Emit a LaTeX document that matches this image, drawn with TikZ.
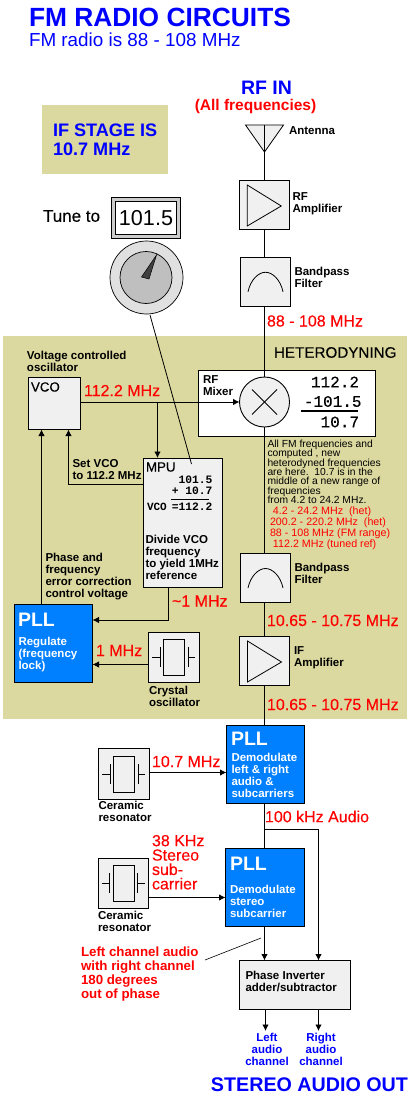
\documentclass[tikz,border=0pt]{standalone}
\usepackage{fontspec}
\setmainfont{Liberation Sans}
\newfontfamily\monof{Liberation Mono}
\newfontfamily\hvy[FakeBold=0.25]{Liberation Sans}
\newfontfamily\monoh[FakeBold=0.25]{Liberation Mono}
\usetikzlibrary{arrows.meta}
\definecolor{panelc}{HTML}{DBD99F}
\definecolor{boxc}{HTML}{F0F0F0}
\definecolor{pllc}{HTML}{0080FF}
\newcommand{\fsz}[2]{\fontsize{#1}{#2}\selectfont\lineskiplimit=-100pt\relax}
\tikzset{
 every node/.style={inner sep=0pt,outer sep=0pt},
 wire/.style={line width=0.9pt,black},
 arr/.style={line width=0.9pt,black,-{Latex[length=6.5pt,width=6.5pt]}},
 bx/.style={draw=black,line width=0.9pt,fill=boxc,rectangle},
 pll/.style={draw=black,line width=0.9pt,fill=pllc,rectangle},
 lbl/.style={anchor=west,align=left,font=\bfseries\fsz{11.5}{12}},
 freq/.style={anchor=west,align=left,text=red,font=\hvy\fsz{16}{16}},
 pllt/.style={anchor=west,text=white,font=\bfseries\fsz{19.5}{20}},
 pllb/.style={anchor=west,align=left,text=white,font=\bfseries\fsz{11.5}{12}},
 sym/.style={line width=0.8pt,black},
}
\newcommand{\xtalsym}[1]{\begin{scope}[shift={(#1)}]
 \draw[sym] (-10.5,-18) rectangle (10.5,18);
 \draw[sym] (-14,-10) -- (-14,10) (-22,0) -- (-14,0) (14,-10) -- (14,10) (14,0) -- (21,0);
\end{scope}}
\newcommand{\bpfsym}[1]{\begin{scope}[shift={(#1)}]
 \draw[sym] (-17.5,10) .. controls (-15,-2) and (-7,-9.5) .. (0,-9.5) .. controls (7,-9.5) and (15,-2) .. (17.5,10);
\end{scope}}
\newcommand{\ampsym}[1]{\begin{scope}[shift={(#1)}]
 \draw[sym] (-17,-20) -- (17,1) -- (-17,21) -- cycle;
\end{scope}}
\begin{document}
\begin{tikzpicture}[x=1pt,y=-1pt]
\useasboundingbox (0,0) rectangle (412,1110);
\fill[white] (0,0) rectangle (412,1110);
% guide columns
\coordinate (main) at (264.5,0);
\coordinate (tapx) at (157.5,0);
\coordinate (pllin) at (41.5,0);
\coordinate (setx) at (68.5,0);
\coordinate (sety) at (0,484.5);
\coordinate (refx) at (168.5,0);
\coordinate (refy) at (0,620);
\coordinate (brx) at (318.5,0);
\coordinate (bry) at (0,829);
\coordinate (leftx) at (265.5,0);
% panels
\node[rectangle,fill=panelc,minimum width=404pt,minimum height=383pt] (panel) at (205,527.5) {};
\node[rectangle,fill=panelc,minimum width=126pt,minimum height=69pt] (ifbox) at (105,139.5) {};
% mixer box
\node[draw=black,fill=white,line width=0.9pt,minimum width=177pt,minimum height=66pt] (mixbox) at (287,403.5) {};
% named nodes
\coordinate (anttip) at (264.5,152);
\coordinate (anttop) at (264.5,125);
\node[bx,minimum width=50.5pt,minimum height=49pt] (rfamp) at (264.25,205) {};
\node[bx,minimum width=50pt,minimum height=48.5pt] (bpfa) at (265.5,281.75) {};
\node[circle,draw=black,fill=boxc,line width=0.9pt,minimum size=50pt] (mixer) at (264.5,402) {};
\node[bx,minimum width=50pt,minimum height=49pt] (bpfb) at (265.5,578) {};
\node[bx,minimum width=50pt,minimum height=49pt] (ifamp) at (264.5,661) {};
\node[pll,minimum width=78pt,minimum height=78pt] (pllb) at (265.5,764.5) {};
\node[pll,minimum width=79pt,minimum height=78pt] (pllc) at (265,887.5) {};
\node[bx,minimum width=52.5pt,minimum height=52pt] (vco) at (54.25,403.5) {};
\node[bx,minimum width=79pt,minimum height=129.5pt] (mpu) at (183,522.75) {};
\node[pll,minimum width=78pt,minimum height=78pt] (plla) at (53.5,643) {};
\node[bx,minimum width=51pt,minimum height=50pt] (xtal) at (174,657) {};
\node[bx,minimum width=51pt,minimum height=51pt] (cera) at (124,774) {};
\node[bx,minimum width=50pt,minimum height=50pt] (cerb) at (123.5,883) {};
\node[bx,minimum width=111pt,minimum height=49pt] (inv) at (295,985) {};
% connectors
\draw[wire] (anttip) -- (main|-rfamp.north);
\draw[wire] (main|-rfamp.south) -- (main|-bpfa.north);
\draw[wire] (main|-bpfa.south) -- (mixer.north);
\draw[wire] (mixer.south) -- (main|-bpfb.north);
\draw[wire] (main|-bpfb.south) -- (main|-ifamp.north);
\draw[wire] (main|-ifamp.south) -- (main|-pllb.north);
\draw[wire] (main|-pllb.south) -- (main|-pllc.north);
\draw[arr] (vco.east|-mixer.west) -- (mixer.west);
\draw[arr] (tapx|-mixer.west) -- (tapx|-mpu.north);
\draw[arr] (mpu.west|-sety) -- (setx|-sety) -- (setx|-vco.south);
\draw[arr] (pllin|-plla.north) -- (pllin|-vco.south);
\draw[arr] (refx|-mpu.south) -- (refx|-refy) -- (plla.east|-refy);
\draw[arr] (xtal.west|-0,664.5) -- (plla.east|-0,664.5);
\draw[arr] (cera.east|-0,772.5) -- (pllb.west|-0,772.5);
\draw[arr] (cerb.east|-0,897.5) -- (pllc.west|-0,897.5);
\draw[wire] (main|-bry) -- (brx|-bry);
\draw[arr] (brx|-bry) -- (brx|-inv.north);
\draw[arr] (main|-pllc.south) -- (main|-inv.north);
\draw[arr] (leftx|-inv.south) -- (leftx|-0,1031);
\draw[arr] (brx|-inv.south) -- (brx|-0,1031);
% symbols
\draw[sym,fill=boxc] (245.5,125) -- (283.5,125) -- (anttip) -- cycle;
\draw[wire] (anttop) -- (anttip);
\ampsym{rfamp.center}
\ampsym{ifamp.center}
\bpfsym{bpfa.center}
\bpfsym{bpfb.center}
\draw[sym] (mixer.center) ++(-12.5,-12.5) -- ++(25,25);
\draw[sym] (mixer.center) ++(12.5,-12.5) -- ++(-25,25);
\xtalsym{xtal.center}
\xtalsym{cera.center}
\xtalsym{cerb.center}
% tuner
\node[draw=black,fill=lightgray!80,line width=0.9pt,minimum width=69pt,minimum height=41pt] (disp) at (146,218) {};
\node[draw=black,fill=white,line width=0.9pt,minimum width=61pt,minimum height=33.5pt,font=\fsz{21.6}{22}] (dispv) at (146,218) {101.5};
\node[circle,draw=black,fill=black!12,line width=0.7pt,minimum size=73pt] (knob) at (146.5,277.5) {};
\node[circle,draw=black,fill=black!25,line width=0.7pt,minimum size=52pt] (knobin) at (146,277.5) {};
\draw[fill=black!75,line width=0.5pt] (156.5,255) -- (141.5,277) -- (149,279) -- cycle;
\coordinate (mpuend) at (191.5,464);
\draw[line width=0.8pt] (150,315) -- (mpuend);
% text
\node[anchor=west,text=blue,font=\bfseries\fsz{26.35}{27}] (t1) at (29,17) {FM RADIO CIRCUITS};
\node[anchor=west,text=blue,font=\fsz{18.85}{20}] (t2) at (29,40) {FM radio is 88 - 108 MHz};
\node[text=blue,font=\bfseries\fsz{19.5}{20}] (t3) at (266.5,88) {RF IN};
\node[text=red,font=\bfseries\fsz{15.5}{16}] (t4) at (255.5,106.5) {(All frequencies)};
\node[anchor=west,align=left,text=blue,font=\bfseries\fsz{18.1}{19}] (t5) at (53,140) {IF STAGE IS\\10.7 MHz};
\node[lbl] (t6) at (289,131) {Antenna};
\node[lbl] (t7) at (292.5,203.5) {RF\\Amplifier};
\node[lbl] (t8) at (294.5,277) {Bandpass\\Filter};
\node[anchor=west,font=\hvy\fsz{17}{17}] (t9) at (43,216) {Tune to};
\node[freq] (t10) at (267,321) {88 - 108 MHz};
\node[anchor=west,font=\hvy\fsz{15.2}{16}] (t11) at (274,352.5) {HETERODYNING};
\node[lbl] (t12) at (27,361) {Voltage controlled\\oscillator};
\node[anchor=west,font=\hvy\fsz{13.3}{13}] (t13) at (31,387) {VCO};
\node[freq] (t14) at (84,390.5) {112.2 MHz};
\node[lbl] (t15) at (203,386) {RF\\Mixer};
\node[anchor=east,font=\monoh\fsz{16}{16}] (t16) at (359,382) {112.2};
\node[anchor=east,font=\monoh\fsz{16}{16}] (t17) at (361.5,401.5) {-101.5};
\node[anchor=east,font=\monoh\fsz{16}{16}] (t18) at (359,422) {10.7};
\draw[line width=1.4pt] (301,411) -- (358,411);
\node[anchor=north west,align=left,font=\fsz{10.3}{9.35}] (t19) at (267.5,440) {All FM frequencies and\\computed , new\\heterodyned frequencies\\are here.\ \ 10.7 is in the\\middle of a new range of\\frequencies\\from 4.2 to 24.2 MHz.};
\node[anchor=north west,align=left,text=red,font=\fsz{10.7}{10.9}] (t20) at (270,507) {\ 4.2 - 24.2 MHz\ \ (het)\\200.2 - 220.2 MHz\ \ (het)\\88 - 108 MHz (FM range)\\\ 112.2 MHz (tuned ref)};
\node[lbl] (t21) at (72.5,470) {Set VCO\\to 112.2 MHz};
\node[anchor=west,font=\hvy\fsz{13.3}{13}] (t22) at (146,467) {MPU};
\node[anchor=east,font=\monof\bfseries\fsz{11.3}{12}] (t23) at (212.5,479.5) {101.5};
\node[anchor=east,font=\monof\bfseries\fsz{11.3}{12}] (t24) at (212.5,491) {+ 10.7};
\draw[line width=0.8pt] (171,499) -- (209,499);
\node[anchor=west,font=\monof\bfseries\fsz{11}{12}] (t25) at (147,507) {VCO};
\node[anchor=east,font=\monof\bfseries\fsz{11.3}{12}] (t26) at (212.5,507) {=112.2};
\node[lbl] (t27) at (145.5,557) {Divide VCO\\frequency\\to yield 1MHz\\reference};
\node[lbl] (t28) at (45.5,577) {Phase and\\frequency\\error correction\\control voltage};
\node[pllt] (t29) at (18,620) {PLL};
\node[pllb] (t30) at (18.5,655) {Regulate\\(frequency\\lock)};
\node[freq] (t31) at (172,601) {\textasciitilde 1 MHz};
\node[freq] (t32) at (96,650.5) {1 MHz};
\node[lbl] (t33) at (149,696) {Crystal\\oscillator};
\node[lbl] (t34) at (294.5,573) {Bandpass\\Filter};
\node[freq] (t35) at (267,620.5) {10.65 - 10.75 MHz};
\node[lbl] (t36) at (294,658) {IF\\Amplifier};
\node[freq] (t37) at (267,704.5) {10.65 - 10.75 MHz};
\node[pllt] (t38) at (231,739) {PLL};
\node[pllb] (t39) at (231.5,775) {Demodulate\\left \& right\\audio \&\\subcarriers};
\node[freq] (t40) at (152,761.5) {10.7 MHz};
\node[lbl] (t41) at (98.5,811) {Ceramic\\resonator};
\node[freq] (t42) at (265,816.5) {100 kHz Audio};
\node[anchor=north west,align=left,text=red,font=\hvy\fsz{16}{14.4}] (t43) at (152,835) {38 KHz\\Stereo\\sub-\\carrier};
\node[pllt] (t44) at (230,864) {PLL};
\node[pllb] (t45) at (230,901) {Demodulate\\stereo\\subcarrier};
\node[lbl] (t46) at (98,921) {Ceramic\\resonator};
\node[anchor=west,align=left,text=red,font=\bfseries\fsz{13.3}{14}] (t47) at (81,974) {Left channel audio\\with right channel\\180 degrees\\out of phase};
\coordinate (calla) at (205,960);
\coordinate (callb) at (261,938);
\draw[line width=0.6pt] (calla) -- (callb);
\node[lbl] (t48) at (245.5,981) {Phase Inverter\\adder/subtractor};
\node[align=center,text=blue,font=\bfseries\fsz{11.5}{11.7}] (t49) at (267,1049.5) {Left\\audio\\channel};
\node[align=center,text=blue,font=\bfseries\fsz{11.5}{11.7}] (t50) at (321,1049.5) {Right\\audio\\channel};
\node[anchor=east,text=blue,font=\bfseries\fsz{19.7}{21}] (t51) at (408,1085) {STEREO AUDIO OUT};
\end{tikzpicture}
\end{document}
